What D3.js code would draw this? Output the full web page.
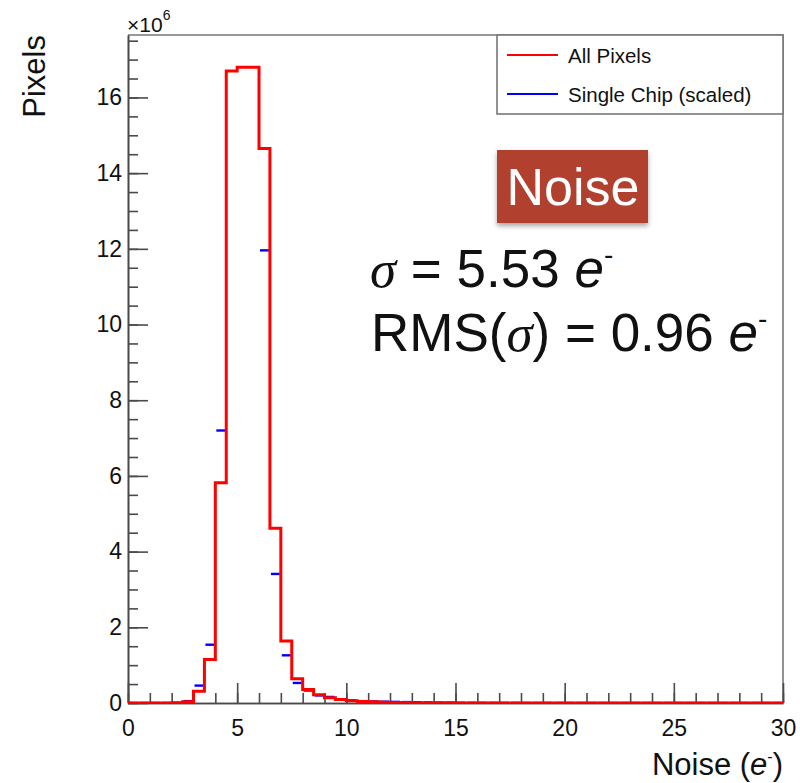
<!DOCTYPE html>
<html>
<head>
<meta charset="utf-8">
<script src="https://cdn.jsdelivr.net/npm/d3@7"></script>
<style>
  body { margin: 0; background: #fff; }
  #canvas { width: 800px; height: 783px; }
  text { font-family: "Liberation Sans", Arial, Helvetica, sans-serif; }
  .axis path, .axis line { stroke: #4a4a4a; stroke-width: 1.6px; }
  .axis text { font-size: 23px; fill: #111; }
</style>
</head>
<body>
<div id="canvas" class="canvas"></div>
<script>
// bin low edges (width 0.5 e-)
var binStart = [0, 0.5, 1, 1.5, 2, 2.5, 3, 3.5, 4, 4.5, 5, 5.5, 6, 6.5, 7, 7.5, 8, 8.5, 9, 9.5,
                10, 10.5, 11, 11.5, 12, 12.5, 13, 13.5, 14, 14.5, 15, 15.5, 16, 16.5, 17, 17.5, 18, 18.5, 19, 19.5,
                20, 20.5, 21, 21.5, 22, 22.5, 23, 23.5, 24, 24.5, 25, 25.5, 26, 26.5, 27, 27.5, 28, 28.5, 29, 29.5];
var binWidth = 0.5;

// all pixels, in units of 10^6
var allPixels = [0, 0, 0, 0.001, 0.006, 0.03, 0.31, 1.15, 5.82, 16.70, 16.80, 16.80, 14.65, 4.62, 1.64, 0.64, 0.36, 0.22, 0.14, 0.09,
                 0.06, 0.04, 0.03, 0.02, 0.015, 0.011, 0.008, 0.006, 0.005, 0.004, 0.003, 0.003, 0.002, 0.002, 0.002, 0.001, 0.001, 0.001, 0.001, 0.001,
                 0.001, 0.001, 0, 0, 0, 0, 0, 0, 0, 0, 0, 0, 0, 0, 0, 0, 0, 0, 0, 0];

// single chip (scaled), 10^6 -- peak bins run off the top of the frame
var singleChip = [0, 0, 0, 0, 0.004, 0.05, 0.46, 1.54, 7.2, 18.6, 19.4, 18.1, 11.96, 3.41, 1.26, 0.53, 0.33, 0.20, 0.16, 0.09,
                  0.07, 0.05, 0.04, 0.035, 0.03, 0.025, 0.02, 0.015, 0.01, 0.008, 0.006, 0.005, 0.004, 0.003, 0.002, 0.002, 0.001, 0.001, 0.001, 0.001,
                  0, 0, 0, 0, 0, 0, 0, 0, 0, 0, 0, 0, 0, 0, 0, 0, 0, 0, 0, 0];

var xTicks = [0, 5, 10, 15, 20, 25, 30];
var yTicks = [0, 2, 4, 6, 8, 10, 12, 14, 16];
var yMax = 17.65;

var legendItems = [
  {label: 'All Pixels', color: '#ff0000'},
  {label: 'Single Chip (scaled)', color: '#0000ff'}
];

var m = {t:35, r:17, b:80, l:128};
var outerWidth = 800, outerHeight = 783;
var w = outerWidth - m.l - m.r,
    h = outerHeight - m.t - m.b;

var svg = d3.select('.canvas')
    .append('svg')
    .attr('width', outerWidth)
    .attr('height', outerHeight);

var defs = svg.append('defs');
defs.append('clipPath').attr('id', 'frame-clip')
    .append('rect').attr('x', 0).attr('y', 0).attr('width', w).attr('height', h);
var shadow = defs.append('filter').attr('id', 'shadow')
    .attr('x', '-20%').attr('y', '-20%').attr('width', '140%').attr('height', '150%');
shadow.append('feDropShadow').attr('dx', 0).attr('dy', 3).attr('stdDeviation', 2.5)
    .attr('flood-color', '#000').attr('flood-opacity', 0.35);

var plot = svg.append('g')
    .attr('transform', 'translate(' + m.l + ',' + m.t + ')');

var scaleX = d3.scaleLinear().domain([0, 30]).range([0, w]);
var scaleY = d3.scaleLinear().domain([0, yMax]).range([h, 0]);

// frame (top and right)
plot.append('path')
    .attr('d', 'M0,0H' + w + 'V' + h)
    .style('fill', 'none').style('stroke', '#777').style('stroke-width', 1.6);

// minor ticks
plot.append('g').attr('class', 'axis')
    .call(d3.axisLeft(scaleY).tickValues(d3.range(0, yMax, 0.5)).tickSize(-10).tickSizeOuter(0).tickFormat(''));
plot.append('g').attr('class', 'axis')
    .attr('transform', 'translate(0,' + h + ')')
    .call(d3.axisBottom(scaleX).tickValues(d3.range(0, 31, 1)).tickSize(-10).tickSizeOuter(0).tickFormat(''));

// major ticks + labels
plot.append('g').attr('class', 'axis axis-y')
    .call(d3.axisLeft(scaleY).tickValues(yTicks).tickSize(-20).tickSizeOuter(0).tickPadding(6).tickFormat(d3.format('d')));
plot.append('g').attr('class', 'axis axis-x')
    .attr('transform', 'translate(0,' + h + ')')
    .call(d3.axisBottom(scaleX).tickValues(xTicks).tickSize(-20).tickSizeOuter(0).tickPadding(17).tickFormat(d3.format('d')));

plot.selectAll('.axis .domain').style('stroke', '#4a4a4a');

// histograms
var hist = plot.append('g').attr('clip-path', 'url(#frame-clip)');

hist.selectAll('.chip')
    .data(singleChip)
    .enter()
    .append('line').attr('class', 'chip')
    .attr('x1', function(d, i){ return scaleX(binStart[i]) + 1; })
    .attr('x2', function(d, i){ return scaleX(binStart[i] + binWidth) - 1; })
    .attr('y1', function(d){ return scaleY(d); })
    .attr('y2', function(d){ return scaleY(d); })
    .style('stroke', '#0000ff')
    .style('stroke-width', 2.4);

var pts = binStart.map(function(b, i){ return [b, allPixels[i]]; });
pts.push([30, allPixels[allPixels.length - 1]]);

var line = d3.line()
    .x(function(d){ return scaleX(d[0]); })
    .y(function(d){ return scaleY(d[1]); })
    .curve(d3.curveStepAfter);

hist.append('path')
    .datum(pts)
    .attr('d', line)
    .style('fill', 'none')
    .style('stroke', '#ff0000')
    .style('stroke-width', 3);

// x10^6 multiplier
var mult = svg.append('text').attr('x', 127).attr('y', 32).style('font-size', '21px').style('fill', '#111');
mult.append('tspan').text('\u00d710');
mult.append('tspan').attr('dy', -12).style('font-size', '14px').text('6');

// axis titles
svg.append('text')
    .attr('transform', 'translate(45,35) rotate(-90)')
    .attr('text-anchor', 'end')
    .style('font-size', '31px').style('fill', '#111')
    .text('Pixels');

var xt = svg.append('text')
    .attr('x', 783).attr('y', 775)
    .attr('text-anchor', 'end')
    .style('font-size', '31px').style('fill', '#111');
xt.append('tspan').text('Noise (');
xt.append('tspan').style('font-style', 'italic').text('e');
xt.append('tspan').attr('dy', -13).style('font-size', '16px').text('-');
xt.append('tspan').attr('dy', 13).text(')');

// legend
var lg = svg.append('g').attr('transform', 'translate(497,35)');
lg.append('rect').attr('width', 286).attr('height', 79)
    .style('fill', '#fff').style('stroke', '#777').style('stroke-width', 1.6);
var li = lg.selectAll('.leg').data(legendItems).enter().append('g')
    .attr('transform', function(d, i){ return 'translate(0,' + (20 + i * 39) + ')'; });
li.append('line').attr('x1', 10).attr('x2', 61)
    .style('stroke', function(d){ return d.color; }).style('stroke-width', 2);
li.append('text').attr('x', 71).attr('y', 8)
    .style('font-size', '20.5px').style('fill', '#111')
    .text(function(d){ return d.label; });

// Noise label box
svg.append('rect').attr('x', 497).attr('y', 150).attr('width', 151).attr('height', 73)
    .style('fill', '#b1412f').attr('filter', 'url(#shadow)');
svg.append('text').attr('x', 573).attr('y', 205).attr('text-anchor', 'middle')
    .style('font-size', '52px').style('fill', '#fff').text('Noise');

// stats text
var s1 = svg.append('text').attr('x', 370).attr('y', 287).style('font-size', '53px').style('fill', '#111');
s1.append('tspan').style('font-family', '"Liberation Serif", serif').style('font-style', 'italic').text('\u03c3');
s1.append('tspan').text(' = 5.53 ');
s1.append('tspan').style('font-style', 'italic').text('e');
s1.append('tspan').attr('dy', -23).style('font-size', '28px').text('-');

var s2 = svg.append('text').attr('x', 371).attr('y', 351).style('font-size', '53px').style('fill', '#111');
s2.append('tspan').text('RMS(');
s2.append('tspan').style('font-family', '"Liberation Serif", serif').style('font-style', 'italic').text('\u03c3');
s2.append('tspan').text(') = 0.96 ');
s2.append('tspan').style('font-style', 'italic').text('e');
s2.append('tspan').attr('dy', -23).style('font-size', '28px').text('-');
</script>
</body>
</html>
